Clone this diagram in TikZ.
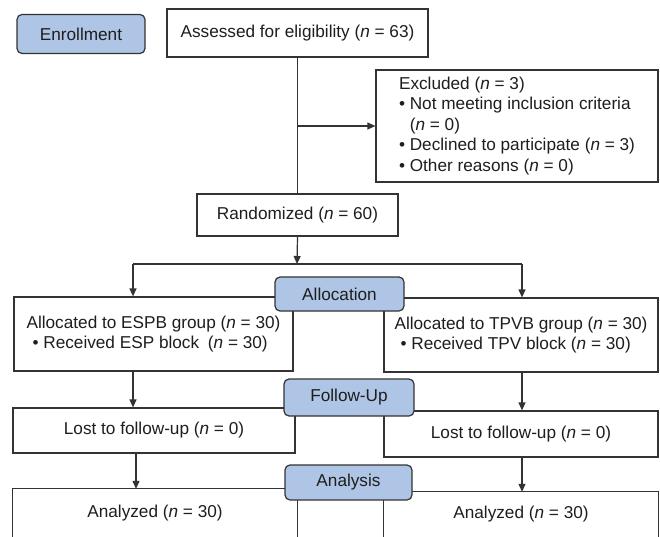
\documentclass[tikz,border=0pt]{standalone}
\usepackage{fontspec}
\setmainfont{Liberation Sans}
\usetikzlibrary{arrows.meta}
\definecolor{stagefill}{HTML}{AFC5E5}
\definecolor{ln}{HTML}{333333}
\definecolor{tx}{HTML}{1E1E1E}
\newcommand{\enn}{\textit{n}}
\begin{document}
\begin{tikzpicture}[x=1pt,y=-1pt,
  font=\fontsize{17.2}{20.5}\selectfont,
  box/.style={draw=ln, line width=1.2pt, inner sep=0pt, text=tx, fill=white},
  stagebox/.style={box, fill=stagefill, rounded corners=5pt},
  arr/.style={draw=ln, line width=1.2pt, -{Triangle[length=8pt,width=7pt]}},
  conn/.style={draw=ln, line width=1.2pt}]
\useasboundingbox (0,0) rectangle (660,537);

% Enrollment
\node[stagebox, minimum width=128pt, minimum height=39pt] (enr) at (81,34) {Enrollment};
\node[box, minimum width=261pt, minimum height=48pt] (assess) at (297.5,33) {Assessed for eligibility (\enn{} = 63)};
\node[box, minimum width=282pt, minimum height=112pt, align=left] (excl) at (517,126)
  {Excluded (\enn{} = 3)\\
   • Not meeting inclusion criteria\\
   \hphantom{• }(\enn{} = 0)\\
   • Declined to participate (\enn{} = 3)\\
   • Other reasons (\enn{} = 0)};
\node[box, minimum width=201pt, minimum height=42pt] (rand) at (297.5,215) {Randomized (\enn{} = 60)};

\coordinate (j1) at (297,126);
\draw[conn] (assess.south) -- (rand.north);
\draw[arr] (j1) -- (excl.west);

% Allocation
\coordinate (split) at (297,264);
\coordinate (sL) at (133,264);
\coordinate (sR) at (522,264);
\draw[arr] (rand.south) -- (split);
\draw[conn] (sL) -- (sR);

\node[box, minimum width=279pt, minimum height=74pt, align=left] (espb) at (153.5,334)
  {Allocated to ESPB group (\enn{} = 30)\\
   \hspace{6pt}• Received ESP block\hspace{4pt} (\enn{} = 30)};
\node[box, minimum width=274pt, minimum height=74pt, align=left] (tpvb) at (521,335)
  {Allocated to TPVB group (\enn{} = 30)\\
   \hspace{6pt}• Received TPV block (\enn{} = 30)};
\draw[arr] (sL) -- (sL |- espb.north);
\draw[arr] (sR) -- (sR |- tpvb.north);
\node[stagebox, minimum width=129pt, minimum height=34pt] (alloc) at (339.5,294) {Allocation};

% Follow-up
\node[box, minimum width=282pt, minimum height=45pt] (lostL) at (154,430.5) {Lost to follow-up (\enn{} = 0)};
\node[box, minimum width=274pt, minimum height=46pt] (lostR) at (521,434) {Lost to follow-up (\enn{} = 0)};
\draw[arr] (espb.south -| sL) -- (lostL.north -| sL);
\draw[arr] (tpvb.south -| sR) -- (lostR.north -| sR);
\node[stagebox, minimum width=130pt, minimum height=37pt] (follow) at (349,397.5) {Follow-Up};

% Analysis
\coordinate (xL) at (136,0);
\coordinate (xR) at (522,0);
\node[inner sep=0pt, text=tx, minimum width=284pt, minimum height=48pt] (anL) at (155,513) {Analyzed (\enn{} = 30)};
\node[inner sep=0pt, text=tx, minimum width=274pt, minimum height=45pt] (anR) at (521,514.5) {Analyzed (\enn{} = 30)};
\draw[conn] (anL.south west) |- (anL.north east) -- (anL.south east);
\draw[conn] (anR.south west) |- (anR.north east) -- (anR.south east);
\draw[arr] (lostL.south -| xL) -- (anL.north -| xL);
\draw[arr] (lostR.south -| xR) -- (anR.north -| xR);
\node[stagebox, minimum width=127pt, minimum height=35pt] (analysis) at (348.5,482.5) {Analysis};
\end{tikzpicture}
\end{document}
